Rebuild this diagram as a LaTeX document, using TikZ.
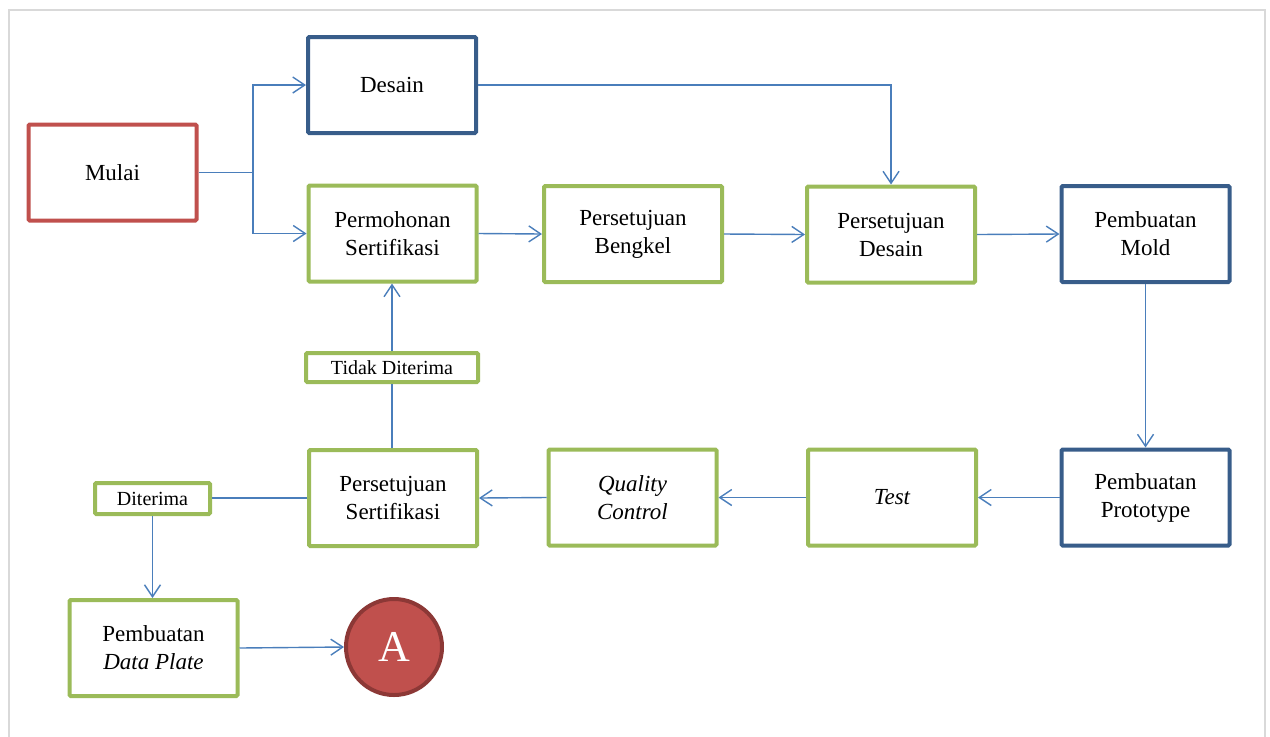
\documentclass[tikz,border=0pt]{standalone}
\usepackage{fontspec}
\setmainfont{Liberation Serif}
\usetikzlibrary{arrows.meta}
\definecolor{cred}{HTML}{C0504D}
\definecolor{cdred}{HTML}{8C3836}
\definecolor{cblue}{HTML}{385D8A}
\definecolor{cgreen}{HTML}{9BBB59}
\definecolor{cline}{HTML}{4A7EBB}
\definecolor{cframe}{HTML}{D9D9D9}
\tikzset{
  box/.style={draw, line width=2pt, rounded corners=0.6pt, fill=white, align=center,
    minimum width=84pt, minimum height=48pt, inner sep=2pt,
    font=\fontsize{11.5pt}{14pt}\selectfont},
  redbox/.style={box, draw=cred},
  bluebox/.style={box, draw=cblue},
  greenbox/.style={box, draw=cgreen},
  tag/.style={draw=cgreen, line width=2pt, rounded corners=0.6pt, fill=white,
    inner sep=0pt, font=\fontsize{10pt}{12pt}\selectfont},
  conn/.style={draw=cline, line width=0.7pt},
  arr/.style={conn, -{Straight Barb[length=6pt,width=8pt,line width=0.7pt]}},
}
\begin{document}
\begin{tikzpicture}[x=0.5pt,y=-0.5pt]
\useasboundingbox (0,0) rectangle (1270,736);
\draw[cframe, line width=1pt] (9,760) -- (9,10) -- (1265,10) -- (1265,760);

\node[redbox] (mulai) at (112.5,172.5) {Mulai};
\node[bluebox] (desain) at (392,85) {Desain};
\node[greenbox] (perm) at (392.5,233.5) {Permohonan\\Sertifikasi};
\node[greenbox, minimum width=89pt] (bengkel) at (633,234) {Persetujuan\\Bengkel};
\node[greenbox] (pdesain) at (891,234.5) {Persetujuan\\Desain};
\node[bluebox] (mold) at (1145.5,234) {Pembuatan\\Mold};
\node[bluebox] (proto) at (1145.5,497.5) {Pembuatan\\Prototype};
\node[greenbox] (test) at (892,497.5) {\itshape Test};
\node[greenbox] (qc) at (632.5,497.5) {\itshape Quality\\\itshape Control};
\node[greenbox] (psert) at (393,498) {Persetujuan\\Sertifikasi};
\node[tag, minimum width=86pt, minimum height=14.5pt] (tidak) at (392,367.5) {Tidak Diterima};
\node[tag, minimum width=57.5pt, minimum height=15.5pt] (diterima) at (152.5,498.5) {Diterima};
\node[greenbox] (dplate) at (153.5,648) {Pembuatan\\\itshape Data Plate};
\node[circle, draw=cdred, fill=cred, line width=2pt, minimum size=48pt, inner sep=0pt,
  text=white, font=\fontsize{22pt}{24pt}\selectfont] (a) at (394,647) {A};

\coordinate (br) at (253,172.5);
\draw[conn] (mulai.east) -- (br);
\draw[arr] (br) |- (desain.west);
\draw[arr] (br) |- (perm.west);
\draw[arr] (desain.east) -| (pdesain.north);
\draw[arr] (perm.east) -- (bengkel.west);
\draw[arr] (bengkel.east) -- (pdesain.west);
\draw[arr] (pdesain.east) -- (mold.west);
\draw[arr] (mold.south) -- (proto.north);
\draw[arr] (proto.west) -- (test.east);
\draw[arr] (test.west) -- (qc.east);
\draw[arr] (qc.west) -- (psert.east);
\draw[conn] (psert.north -| tidak.south) -- (tidak.south);
\draw[arr] (tidak.north) -- (tidak.north |- perm.south);
\draw[conn] (psert.west) -- (diterima.east |- psert.west);
\draw[arr] (diterima.south) -- (diterima.south |- dplate.north);
\draw[arr] (dplate.east) -- (a.west);
\end{tikzpicture}
\end{document}
